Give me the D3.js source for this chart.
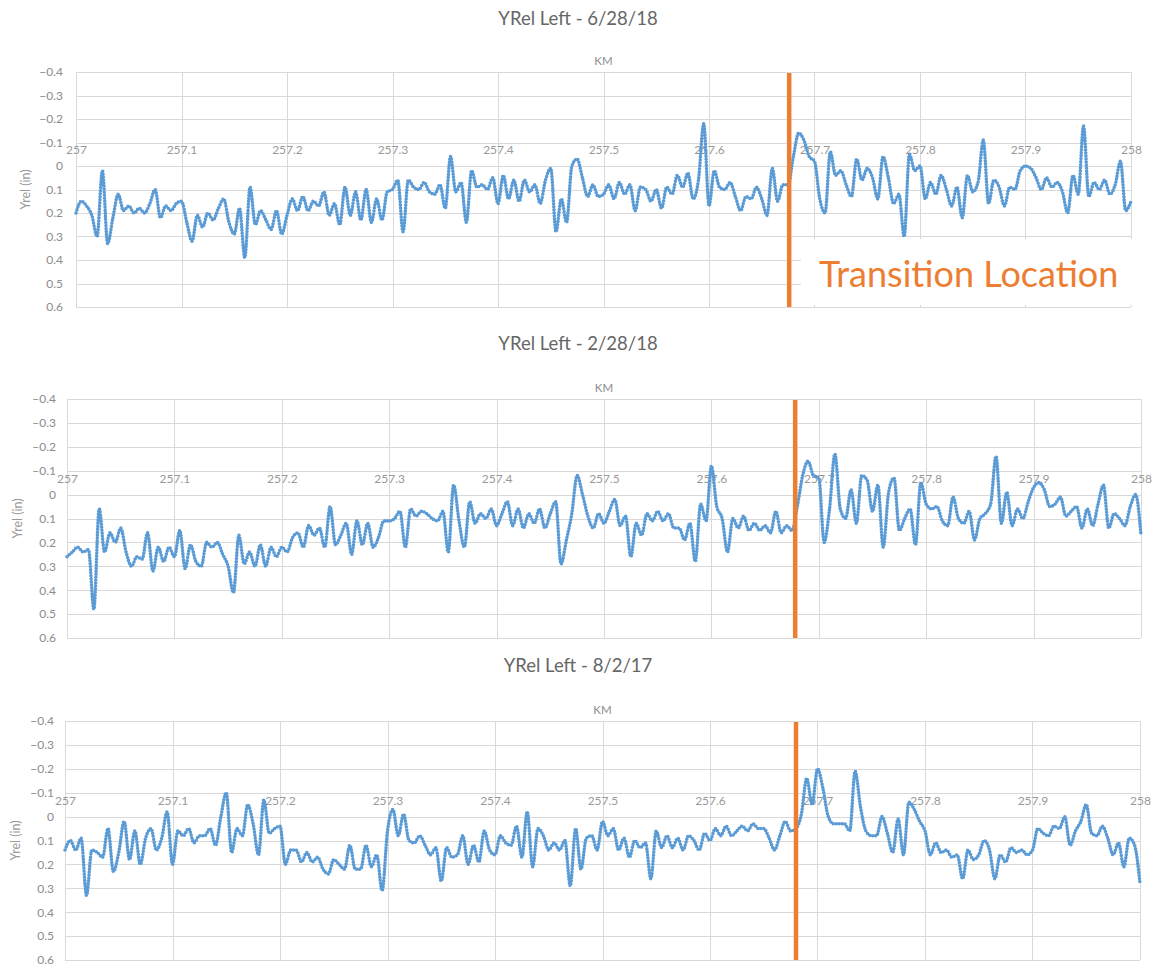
<!DOCTYPE html>
<html lang="en">
<head>
    <meta charset="utf-8">
    <title>YRel Left</title>
    <style>
        body { margin: 0; background: #fff; }
        svg text { font-family: Lato, "Open Sans", sans-serif; }
        .grid line { stroke: #d9d9d9; stroke-width: 1px; shape-rendering: crispEdges; }
        .series { fill: none; stroke: #5b9bd5; stroke-width: 3.6px; stroke-linecap: round; stroke-linejoin: round; stroke-dasharray: 0 3; }
    </style>
    <script src="https://d3js.org/d3.v7.min.js"></script>
</head>
<body>
<svg width="1156" height="966"></svg>
<script>
// tick labels
var kmTicks = [257, 257.1, 257.2, 257.3, 257.4, 257.5, 257.6, 257.7, 257.8, 257.9, 258];
var yTicks = [-0.4, -0.3, -0.2, -0.1, 0, 0.1, 0.2, 0.3, 0.4, 0.5, 0.6];

// chart titles
var titles = ["YRel Left - 6/28/18", "YRel Left - 2/28/18", "YRel Left - 8/2/17"];

// KM of the sample points (every 5 m from 257 to 258)
var kmSamples = d3.range(201).map(function (i) { return +(257 + i * 0.005).toFixed(3); });

// Yrel (in), one row per 0.1 km
var yrel_6_28_18 = [
    0.20, 0.15, 0.17, 0.21, 0.30, 0.02, 0.33, 0.22, 0.12, 0.19, 0.17, 0.20, 0.18, 0.20, 0.16, 0.10, 0.22, 0.17, 0.19, 0.16,
    0.15, 0.24, 0.32, 0.21, 0.26, 0.20, 0.23, 0.18, 0.14, 0.24, 0.29, 0.18, 0.39, 0.09, 0.25, 0.19, 0.23, 0.27, 0.19, 0.29,
    0.21, 0.14, 0.19, 0.13, 0.19, 0.15, 0.17, 0.11, 0.21, 0.16, 0.25, 0.09, 0.21, 0.11, 0.23, 0.10, 0.24, 0.14, 0.23, 0.11,
    0.10, 0.06, 0.28, 0.06, 0.09, 0.10, 0.07, 0.11, 0.12, 0.08, 0.18, -0.04, 0.11, 0.07, 0.24, 0.02, 0.09, 0.08, 0.10, 0.05,
    0.16, 0.04, 0.14, 0.06, 0.15, 0.06, 0.11, 0.08, 0.16, 0.06, 0.01, 0.28, 0.14, 0.24, 0.00, -0.03, 0.05, 0.13, 0.08, 0.13,
    0.12, 0.08, 0.14, 0.07, 0.12, 0.08, 0.19, 0.09, 0.10, 0.15, 0.10, 0.18, 0.09, 0.12, 0.04, 0.09, 0.03, 0.14, 0.06, -0.18,
    0.17, 0.02, 0.09, 0.10, 0.07, 0.13, 0.19, 0.13, 0.14, 0.09, 0.14, 0.21, 0.01, 0.15, 0.08, 0.08, -0.04, -0.14, -0.11, -0.04,
    -0.02, 0.14, 0.20, -0.06, 0.04, 0.02, 0.08, 0.13, -0.03, 0.06, 0.01, 0.05, 0.14, -0.04, 0.05, 0.16, 0.12, 0.30, -0.05, 0.02,
    0.00, 0.14, 0.07, 0.12, 0.04, 0.10, 0.17, 0.09, 0.22, 0.04, 0.11, 0.07, -0.11, 0.16, 0.06, 0.09, 0.17, 0.09, 0.10, 0.02,
    0.00, 0.01, 0.05, 0.10, 0.05, 0.09, 0.07, 0.11, 0.20, 0.04, 0.12, -0.17, 0.13, 0.07, 0.10, 0.06, 0.12, 0.08, -0.02, 0.19,
    0.15
];
var yrel_2_28_18 = [
    0.26, 0.24, 0.22, 0.24, 0.23, 0.48, 0.06, 0.24, 0.16, 0.20, 0.14, 0.24, 0.30, 0.26, 0.27, 0.16, 0.32, 0.22, 0.28, 0.22,
    0.26, 0.15, 0.31, 0.21, 0.28, 0.30, 0.20, 0.22, 0.20, 0.25, 0.30, 0.41, 0.17, 0.29, 0.24, 0.30, 0.21, 0.30, 0.22, 0.26,
    0.22, 0.24, 0.18, 0.16, 0.22, 0.13, 0.17, 0.14, 0.22, 0.05, 0.21, 0.17, 0.12, 0.25, 0.11, 0.21, 0.12, 0.22, 0.18, 0.11,
    0.11, 0.10, 0.07, 0.22, 0.06, 0.09, 0.07, 0.08, 0.10, 0.11, 0.07, 0.24, -0.04, 0.11, 0.22, 0.03, 0.12, 0.08, 0.10, 0.06,
    0.13, 0.08, 0.03, 0.13, 0.06, 0.14, 0.08, 0.12, 0.06, 0.14, 0.08, 0.03, 0.29, 0.19, 0.08, -0.08, 0.00, 0.09, 0.14, 0.08,
    0.12, 0.07, 0.02, 0.13, 0.09, 0.26, 0.12, 0.17, 0.08, 0.11, 0.07, 0.11, 0.08, 0.14, 0.14, 0.19, 0.12, 0.28, 0.04, 0.11,
    -0.12, 0.05, 0.10, 0.24, 0.10, 0.14, 0.09, 0.15, 0.12, 0.15, 0.13, 0.16, 0.07, 0.16, 0.13, 0.15, 0.05, -0.08, -0.14, -0.08,
    -0.07, 0.20, 0.06, -0.17, 0.06, 0.10, -0.02, 0.12, -0.08, -0.06, 0.07, -0.04, 0.22, -0.01, -0.07, 0.15, 0.10, 0.06, 0.21, -0.05,
    0.04, 0.06, 0.05, 0.11, 0.13, 0.01, 0.10, 0.12, 0.07, 0.19, 0.10, 0.08, 0.04, -0.16, 0.12, -0.01, 0.13, 0.06, 0.10, 0.03,
    -0.03, -0.05, -0.02, 0.05, 0.04, 0.01, 0.09, 0.07, 0.05, 0.14, 0.06, 0.13, 0.04, -0.04, 0.14, 0.08, 0.10, 0.13, 0.05, 0.00,
    0.17
];
var yrel_8_2_17 = [
    0.14, 0.10, 0.14, 0.09, 0.33, 0.14, 0.15, 0.17, 0.05, 0.23, 0.15, 0.02, 0.18, 0.06, 0.20, 0.09, 0.05, 0.14, 0.09, -0.02,
    0.20, 0.06, 0.08, 0.05, 0.11, 0.08, 0.08, 0.05, 0.12, 0.00, -0.10, 0.15, 0.05, 0.08, -0.05, 0.03, 0.16, -0.07, 0.07, 0.05,
    0.04, 0.20, 0.14, 0.14, 0.19, 0.15, 0.19, 0.17, 0.22, 0.24, 0.18, 0.20, 0.22, 0.12, 0.22, 0.22, 0.12, 0.21, 0.16, 0.31,
    0.06, -0.03, 0.08, -0.01, 0.10, 0.11, 0.08, 0.12, 0.16, 0.13, 0.27, 0.13, 0.17, 0.16, 0.08, 0.20, 0.12, 0.19, 0.06, 0.14,
    0.16, 0.08, 0.11, 0.12, 0.04, 0.17, -0.02, 0.21, 0.05, 0.08, 0.14, 0.11, 0.14, 0.10, 0.29, 0.05, 0.22, 0.09, 0.08, 0.14,
    0.02, 0.08, 0.05, 0.14, 0.09, 0.17, 0.10, 0.13, 0.11, 0.26, 0.06, 0.13, 0.08, 0.13, 0.09, 0.14, 0.08, 0.10, 0.14, 0.07,
    0.10, 0.05, 0.08, 0.04, 0.08, 0.06, 0.04, 0.06, 0.03, 0.05, 0.05, 0.09, 0.14, 0.08, 0.02, 0.06, 0.05, -0.01, -0.16, -0.05,
    -0.20, -0.12, 0.00, 0.03, 0.03, 0.03, 0.06, -0.19, -0.04, 0.06, 0.08, 0.08, 0.00, 0.07, 0.15, 0.01, 0.16, -0.06, -0.03, 0.02,
    0.06, 0.16, 0.11, 0.15, 0.14, 0.17, 0.16, 0.26, 0.14, 0.18, 0.16, 0.10, 0.14, 0.26, 0.16, 0.19, 0.13, 0.15, 0.14, 0.16,
    0.14, 0.05, 0.07, 0.08, 0.04, 0.05, 0.00, 0.12, 0.06, 0.02, -0.05, 0.07, 0.08, 0.04, 0.09, 0.16, 0.11, 0.21, 0.09, 0.12,
    0.28
];

// where the transition sits on each chart (KM)
var transitionKm = [257.676, 257.678, 257.680];

var series = [yrel_6_28_18, yrel_2_28_18, yrel_8_2_17];

// placement of the three charts on the page
var panels = [
    { left: 76, right: 1131, top: 72, bottom: 307, titleY: 25, kmY: 65, yLabelX: 30, tickRight: 63 },
    { left: 67, right: 1141, top: 399, bottom: 638, titleY: 350, kmY: 392, yLabelX: 22, tickRight: 56 },
    { left: 65, right: 1140, top: 721, bottom: 960, titleY: 672, kmY: 714, yLabelX: 20, tickRight: 54 }
];

var svg = d3.select("svg");

panels.forEach(function (p, i) {
    var x = d3.scaleLinear().domain([257, 258]).range([p.left, p.right]);
    // y axis is reversed: -0.4 at the top
    var y = d3.scaleLinear().domain([-0.4, 0.6]).range([p.top, p.bottom]);
    var g = svg.append("g");

    g.append("text")
        .attr("x", 578).attr("y", p.titleY)
        .attr("text-anchor", "middle")
        .attr("font-size", 18.5)
        .attr("fill", "#666")
        .text(titles[i]);

    g.append("text")
        .attr("x", (p.left + p.right) / 2).attr("y", p.kmY)
        .attr("text-anchor", "middle")
        .attr("font-size", 11.5)
        .attr("fill", "#8c8c8c")
        .text("KM");

    var grid = g.append("g").attr("class", "grid");
    grid.selectAll(".h").data(yTicks).enter().append("line")
        .attr("x1", p.left).attr("x2", p.right)
        .attr("y1", function (d) { return Math.round(y(d)) + 0.5; })
        .attr("y2", function (d) { return Math.round(y(d)) + 0.5; });
    grid.selectAll(".v").data(kmTicks).enter().append("line")
        .attr("y1", p.top).attr("y2", p.bottom)
        .attr("x1", function (d) { return Math.round(x(d)) + 0.5; })
        .attr("x2", function (d) { return Math.round(x(d)) + 0.5; });

    // y axis labels
    g.append("g")
        .attr("transform", "translate(" + p.tickRight + ",0)")
        .call(d3.axisLeft(y).tickValues(yTicks).tickSize(0).tickPadding(0)
            .tickFormat(function (d) { return d === 0 ? "0" : d3.format(".1f")(d); }))
        .call(function (a) {
            a.select(".domain").remove();
            a.selectAll("text").attr("font-size", 12).attr("fill", "#8c8c8c")
                .attr("font-family", "Lato, 'Open Sans', sans-serif");
        });

    // KM labels sit just above the zero line
    g.append("g")
        .attr("transform", "translate(0," + (y(0) - 12) + ")")
        .call(d3.axisTop(x).tickValues(kmTicks).tickSize(0).tickPadding(0)
            .tickFormat(function (d) { return String(d); }))
        .call(function (a) {
            a.select(".domain").remove();
            a.selectAll("text").attr("font-size", 12).attr("fill", "#999")
                .attr("font-family", "Lato, 'Open Sans', sans-serif");
        });

    g.append("text")
        .attr("transform", "translate(" + p.yLabelX + "," + ((p.top + p.bottom) / 2) + ") rotate(-90)")
        .attr("text-anchor", "middle")
        .attr("font-size", 12.5)
        .attr("fill", "#999")
        .text("Yrel (in)");

    var pts = kmSamples.map(function (k, j) { return [k, series[i][j]]; });
    var line = d3.line()
        .x(function (d) { return x(d[0]); })
        .y(function (d) { return y(d[1]); })
        .curve(d3.curveMonotoneX);

    g.append("path")
        .attr("class", "series")
        .attr("d", line(pts));

    // text box on the first chart hides the grid behind it
    if (i === 0) {
        g.append("rect")
            .attr("x", 801).attr("y", 239)
            .attr("width", 345).attr("height", 66)
            .attr("fill", "#fff");
        g.append("text")
            .attr("x", 819).attr("y", 287)
            .attr("font-size", 36)
            .attr("fill", "#ed7d31")
            .text("Transition Location");
    }

    g.append("line")
        .attr("x1", x(transitionKm[i])).attr("x2", x(transitionKm[i]))
        .attr("y1", p.top + 1).attr("y2", p.bottom)
        .attr("stroke", "#ed7d31")
        .attr("stroke-width", 4.5);
});
</script>
</body>
</html>
